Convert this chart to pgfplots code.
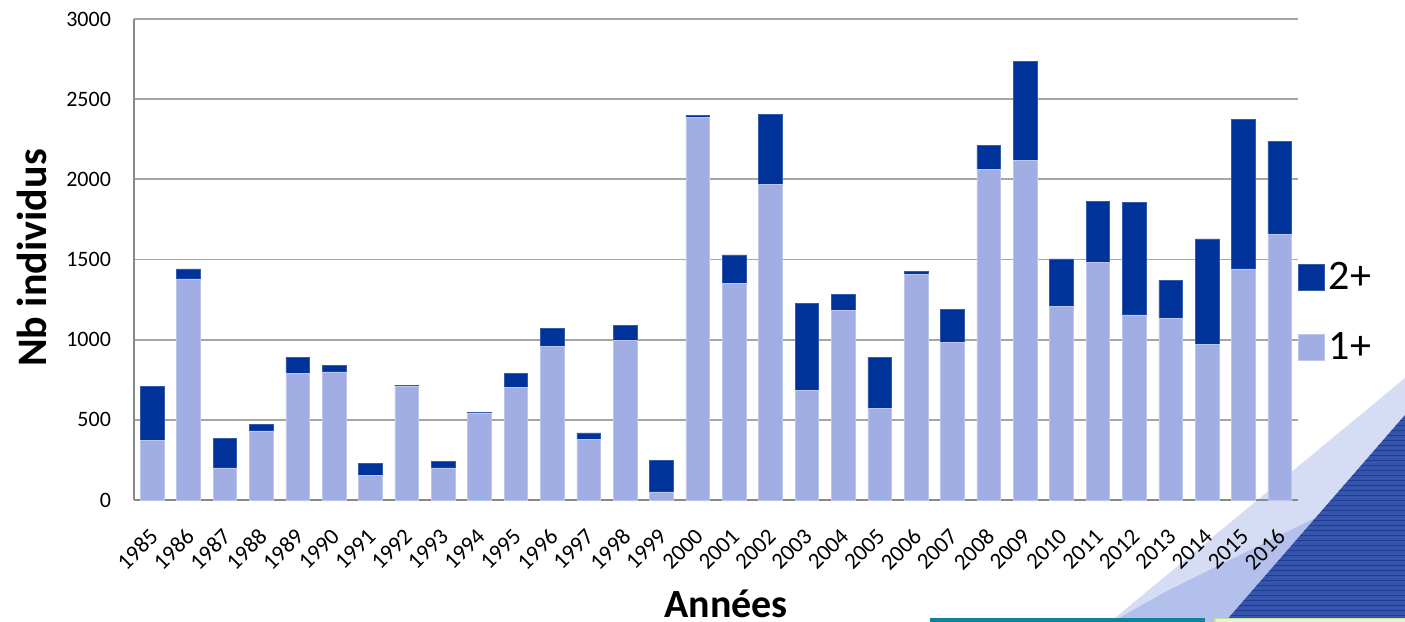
\documentclass[border=0pt]{standalone}
\usepackage{fontspec}
\setmainfont{Carlito}
\usepackage{pgfplots}
\pgfplotsset{compat=1.18}
\usepackage{pgfplotstable}

\definecolor{darkbar}{HTML}{003399}
\definecolor{lightbar}{HTML}{A0AEE3}
\definecolor{gridgray}{HTML}{A6A6A6}
\definecolor{axisgray}{HTML}{898989}
\definecolor{decolight}{HTML}{D6DCF3}
\definecolor{decomid}{HTML}{B4C0EC}
\definecolor{decodark}{HTML}{3554AC}
\definecolor{decoline}{HTML}{1E3C96}
\definecolor{decoteal}{HTML}{13809F}
\definecolor{decogreen}{HTML}{C9E09E}

% year, 1+ , 2+
\pgfplotstableread{
year one two
1985 372 338
1986 1379 63
1987 200 185
1988 431 41
1989 791 97
1990 799 42
1991 152 77
1992 707 9
1993 200 43
1994 539 8
1995 701 87
1996 957 114
1997 379 39
1998 994 96
1999 50 198
2000 2384 17
2001 1350 179
2002 1966 441
2003 685 540
2004 1182 99
2005 570 320
2006 1406 19
2007 982 208
2008 2060 151
2009 2118 620
2010 1207 297
2011 1481 383
2012 1155 703
2013 1132 237
2014 972 657
2015 1442 932
2016 1658 578
}\datatable

\begin{document}
\begin{tikzpicture}
% page frame and slide decoration, in pixels of the reference (origin = axis corner)
\begin{scope}[shift={(-67pt,250pt)},x=0.5pt,y=-0.5pt]
\useasboundingbox (0,0) rectangle (1405,622);
\fill[decolight] (1110,622) -- (1405,378) -- (1405,622) -- cycle;
\fill[decomid] (1112,622) -- (1165,592) -- (1315,518) -- (1405,500) -- (1405,622) -- cycle;
\fill[decodark] (1225,622) -- (1405,415) -- (1405,622) -- cycle;
\begin{scope}
\clip (1225,622) -- (1405,415) -- (1405,622) -- cycle;
\foreach \yy in {420,425,...,620} {\draw[decoline,line width=0.5pt] (1220,\yy) -- (1405,\yy);}
\end{scope}
\fill[decoteal] (930,618) rectangle (1205,622);
\fill[decogreen!40!white] (1215,618) rectangle (1405,622);
\draw[decogreen,line width=0.8pt] (1215,622) -- (1215,618.5) -- (1405,618.5);
\end{scope}

\begin{axis}[
  at={(0,0)}, anchor=south west,
  scale only axis,
  width=582pt, height=240.5pt,
  ybar stacked, bar width=11.85pt,
  xmin=1984.5, xmax=2016.5,
  ymin=0, ymax=3000,
  ytick={0,500,...,3000},
  xtick={1985,...,2016},
  axis x line*=bottom, axis y line*=left,
  axis line style={axisgray, line width=1pt},
  x axis line style={-}, y axis line style={-},
  ymajorgrids, grid style={gridgray, line width=0.9pt},
  major tick length=0pt,
  /pgf/number format/assume math mode=true,
  /pgf/number format/1000 sep={},
  y tick label style={font=\fontsize{11}{11}\selectfont, xshift=-8pt},
  x tick label style={font=\fontsize{11.5}{11.5}\selectfont, xshift=-2pt, yshift=-12pt, rotate=45, anchor=north east, inner sep=1pt},
  xlabel={\textbf{Années}},
  ylabel={\textbf{Nb individus}},
  xlabel style={font=\fontsize{20}{20}\selectfont, at={(axis description cs:0.5086,-0.216)}, anchor=center, inner sep=0pt},
  ylabel style={font=\fontsize{21}{21}\selectfont, at={(axis description cs:-0.0876,0.503)}, anchor=center, inner sep=0pt},
  reverse legend,
  legend style={draw=none, fill=none, at={(1.0,0.39)}, anchor=west,
    font=\fontsize{21}{21}\selectfont, row sep=16pt, inner sep=0pt,
    /tikz/every even column/.append style={column sep=6.5pt}},
  legend cell align=left,
  legend image code/.code={\fill[#1] (0pt,-6.5pt) rectangle (13pt,6.5pt);},
]
\addplot[fill=lightbar, draw=lightbar!70!white, line width=0.3pt] table[x=year,y=one] {\datatable};
\addplot[fill=darkbar, draw=darkbar!80!white, line width=0.3pt] table[x=year,y=two] {\datatable};
\legend{1+,2+}
\end{axis}
\end{tikzpicture}
\end{document}
